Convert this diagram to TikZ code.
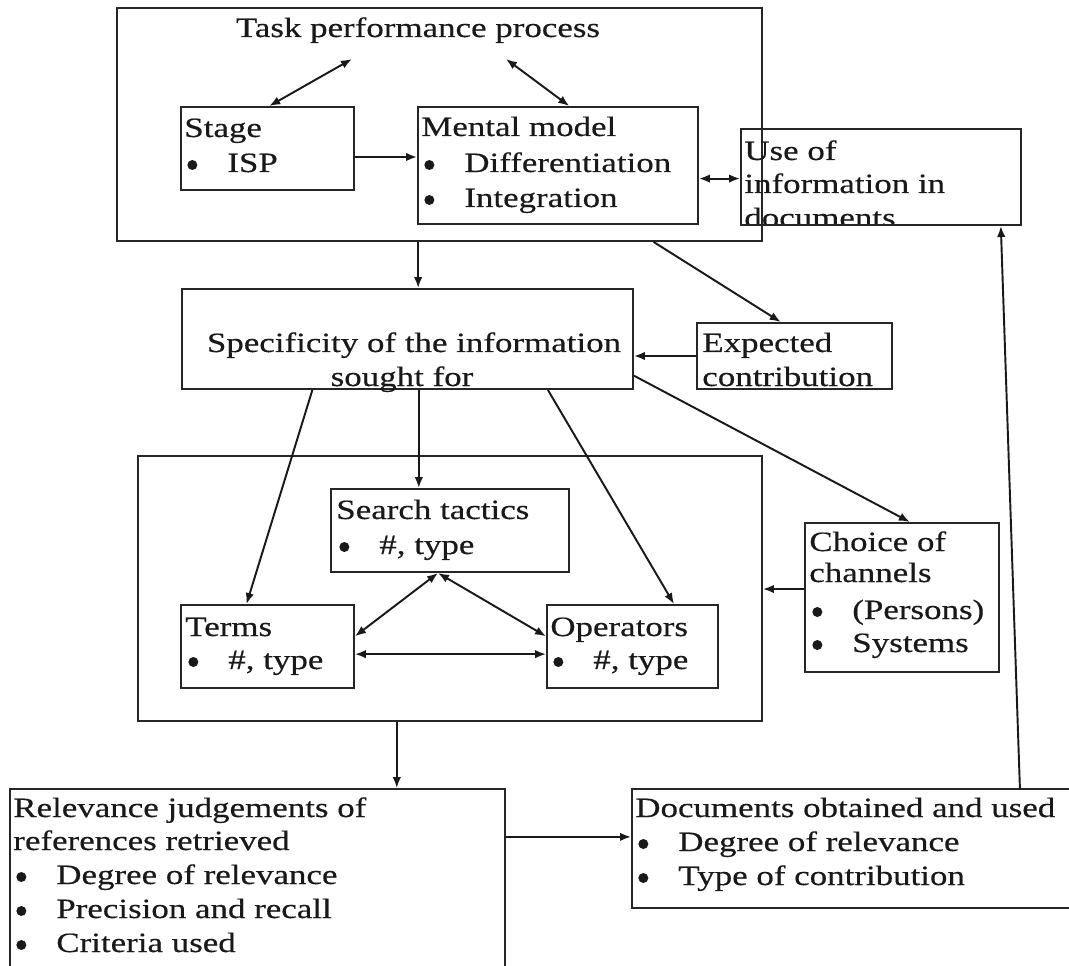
\documentclass[tikz,border=0pt]{standalone}
\usepackage{fontspec}
\setmainfont{Liberation Serif}[FakeStretch=1.25,FakeBold=0.4]
\usetikzlibrary{arrows.meta,calc,fit}
\newcommand\dotb{\tikz[x=1cm,y=1cm,baseline=-0.14cm]\fill (0,0) circle (0.1cm);}
\newcommand\bl[1]{\makebox[0.86cm][l]{\hspace{0.06cm}\dotb}#1}
\begin{document}
\begin{tikzpicture}[x=0.02cm,y=-0.02cm,
  box/.style={draw=black!85,line width=1.1pt,inner sep=0pt,fit={#1}},
  txt/.style={anchor=base west,inner sep=0pt,text=black!90,font=\fontsize{15.9}{19}\selectfont},
  ctxt/.style={anchor=base,inner sep=0pt,text=black!90,font=\fontsize{15.9}{19}\selectfont},
  arr/.style={-{Latex[length=2.2mm,width=1.7mm]},line width=1.1pt,black!90},
  biarr/.style={{Latex[length=2.2mm,width=1.7mm]}-{Latex[length=2.2mm,width=1.7mm]},line width=1.1pt,black!90}]
\useasboundingbox (0,0) rectangle (1069,966);
\fill[white] (0,0) rectangle (1069,966);
% boxes
\node[box={(117,8) (762,241)}] (top) {};
\node[box={(181,107) (354,190)}] (stage) {};
\node[box={(418,107) (698,224)}] (mental) {};
\node[box={(741,129) (1021,225)}] (use) {};
\node[box={(182,289) (633,389)}] (spec) {};
\node[box={(697,323) (892,389)}] (exp) {};
\node[box={(138,456) (762,721)}] (mid) {};
\node[box={(331,489) (569,572)}] (search) {};
\node[box={(181,605) (354,688)}] (terms) {};
\node[box={(547,605) (718,688)}] (ops) {};
\node[box={(805,523) (999,672)}] (choice) {};
\node[box={(10,789) (505,975)}] (rel) {};
\node[box={(632,789) (1075,908)}] (docs) {};
% texts
\node[ctxt] (t1) at (418,37) {Task performance process};
\node[txt] (st1) at (184,137) {Stage};
\node[txt] (st2) at (184,172) {\bl{ISP}};
\node[txt] (mm1) at (421,136) {Mental model};
\node[txt] (mm2) at (421,172) {\bl{Differentiation}};
\node[txt] (mm3) at (421,207) {\bl{Integration}};
\begin{scope}
\clip (741,129) rectangle (1021,224);
\node[txt] (u1) at (744,160) {Use of};
\node[txt] (u2) at (744,193) {information in};
\node[txt] (u3) at (744,227) {documents};
\end{scope}
\node[ctxt] (sp1) at (414,352) {Specificity of the information};
\node[ctxt] (sp2) at (402,386) {sought for};
\node[txt] (e1) at (702,352) {Expected};
\node[txt] (e2) at (702,386) {contribution};
\node[txt] (se1) at (336,519) {Search tactics};
\node[txt] (se2) at (336,554) {\bl{\#, type}};
\node[txt] (te1) at (185,636) {Terms};
\node[txt] (te2) at (185,669) {\bl{\#, type}};
\node[txt] (op1) at (550,636) {Operators};
\node[txt] (op2) at (550,669) {\bl{\#, type}};
\node[txt] (c1) at (809,551) {Choice of};
\node[txt] (c2) at (809,582) {channels};
\node[txt] (c3) at (809,619) {\bl{(Persons)}};
\node[txt] (c4) at (809,652) {\bl{Systems}};
\node[txt] (r1) at (13,817) {Relevance judgements of};
\node[txt] (r2) at (13,850) {references retrieved};
\node[txt] (r3) at (13,884) {\bl{Degree of relevance}};
\node[txt] (r4) at (13,918) {\bl{Precision and recall}};
\node[txt] (r5) at (13,952) {\bl{Criteria used}};
\node[txt] (d1) at (635,817) {Documents obtained and used};
\node[txt] (d2) at (635,851) {\bl{Degree of relevance}};
\node[txt] (d3) at (635,885) {\bl{Type of contribution}};
% connectors
\coordinate (tpL) at (352,59);
\coordinate (tpR) at (506,59);
\draw[biarr] (tpL) -- ($(stage.north west)!0.51!(stage.north east)$);
\draw[biarr] (tpR) -- ($(mental.north west)!0.54!(mental.north east)$);
\coordinate (a1) at ($(stage.north east)!0.6!(stage.south east)$);
\draw[arr] (a1) -- (a1 -| mental.west);
\coordinate (a2) at ($(mental.north east)!0.61!(mental.south east)$);
\draw[biarr] (a2) -- (a2 -| use.west);
\coordinate (a3) at ($(top.south west)!0.467!(top.south east)$);
\draw[arr] (a3) -- (a3 |- spec.north);
\draw[arr] ($(top.south west)!0.831!(top.south east)$) -- ($(exp.north west)!0.43!(exp.north east)$);
\draw[arr] (exp.west) -- (exp.west -| spec.east);
\draw[arr] ($(spec.south west)!0.29!(spec.south east)$) -- ($(terms.north west)!0.38!(terms.north east)$);
\coordinate (a4) at ($(spec.south west)!0.525!(spec.south east)$);
\draw[arr] (a4) -- (a4 |- search.north);
\draw[arr] ($(spec.south west)!0.81!(spec.south east)$) -- ($(ops.north west)!0.74!(ops.north east)$);
\draw[arr] ($(spec.north east)!0.86!(spec.south east)$) -- ($(choice.north west)!0.54!(choice.north east)$);
\coordinate (sb) at ($(search.south west)!0.45!(search.south east)$);
\draw[biarr] (sb) -- ($(terms.north east)!0.38!(terms.south east)$);
\draw[biarr] (sb) -- ($(ops.north west)!0.38!(ops.south west)$);
\coordinate (a5) at ($(terms.north east)!0.59!(terms.south east)$);
\draw[biarr] (a5) -- (a5 -| ops.west);
\coordinate (a6) at ($(choice.north west)!0.444!(choice.south west)$);
\draw[arr] (a6) -- (a6 -| mid.east);
\coordinate (a7) at ($(mid.south west)!0.415!(mid.south east)$);
\draw[arr] (a7) -- (a7 |- rel.north);
\coordinate (a8) at ($(rel.north east)!0.26!(rel.south east)$);
\draw[arr] (a8) -- (a8 -| docs.west);
\draw[arr] ($(docs.north west)!0.874!(docs.north east)$) -- ($(use.south west)!0.925!(use.south east)$);
\end{tikzpicture}
\end{document}
